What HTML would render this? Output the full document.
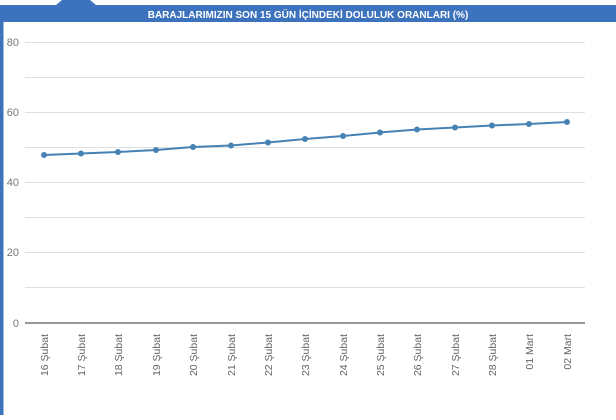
<!DOCTYPE html>
<html><head><meta charset="utf-8"><style>
body{margin:0;background:#fff;width:616px;height:415px;overflow:hidden;font-family:"Liberation Sans",Arial,sans-serif}
</style></head><body>
<svg width="616" height="415" xmlns="http://www.w3.org/2000/svg" font-family="Liberation Sans, Arial, sans-serif">
<rect x="0" y="5" width="616" height="17" fill="#3d72bd"/>
<polygon points="56,5 62,0 90,0 96,5" fill="#3d72bd"/>
<rect x="0" y="5" width="3.5" height="410" fill="#3d72bd"/>
<text x="308" y="18" text-anchor="middle" fill="#fff" font-size="10" font-weight="bold">BARAJLARIMIZIN SON 15 GÜN İÇİNDEKİ DOLULUK ORANLARI (%)</text>
<g stroke="#e0e0e0" stroke-width="1">
<line x1="25" x2="585" y1="42.5" y2="42.5"/>
<line x1="25" x2="585" y1="77.5" y2="77.5"/>
<line x1="25" x2="585" y1="112.5" y2="112.5"/>
<line x1="25" x2="585" y1="147.5" y2="147.5"/>
<line x1="25" x2="585" y1="182.5" y2="182.5"/>
<line x1="25" x2="585" y1="217.5" y2="217.5"/>
<line x1="25" x2="585" y1="252.5" y2="252.5"/>
<line x1="25" x2="585" y1="287.5" y2="287.5"/>
</g>
<line x1="25" x2="585" y1="323" y2="323" stroke="#777" stroke-width="1.5"/>
<g fill="#777" font-size="11" text-anchor="end">
<text x="19" y="46">80</text><text x="19" y="116">60</text><text x="19" y="186">40</text><text x="19" y="256">20</text><text x="19" y="327">0</text>
</g>
<polyline fill="none" stroke="#4682b4" stroke-width="2" points="44,155 81,153.5 118,152 156,150 193,147 231,145.5 268,142.5 305,139 343,136 380,132.5 417,129.5 455,127.5 492,125.5 529,124 567,122"/>
<g fill="#4682b4">
<circle cx="44" cy="155" r="3"/><circle cx="81" cy="153.5" r="3"/><circle cx="118" cy="152" r="3"/><circle cx="156" cy="150" r="3"/><circle cx="193" cy="147" r="3"/><circle cx="231" cy="145.5" r="3"/><circle cx="268" cy="142.5" r="3"/><circle cx="305" cy="139" r="3"/><circle cx="343" cy="136" r="3"/><circle cx="380" cy="132.5" r="3"/><circle cx="417" cy="129.5" r="3"/><circle cx="455" cy="127.5" r="3"/><circle cx="492" cy="125.5" r="3"/><circle cx="529" cy="124" r="3"/><circle cx="567" cy="122" r="3"/>
</g>
<g fill="#666" font-size="10.5" text-anchor="end">
<text transform="translate(48,334) rotate(-90)">16 Şubat</text>
<text transform="translate(85,334) rotate(-90)">17 Şubat</text>
<text transform="translate(122,334) rotate(-90)">18 Şubat</text>
<text transform="translate(160,334) rotate(-90)">19 Şubat</text>
<text transform="translate(197,334) rotate(-90)">20 Şubat</text>
<text transform="translate(235,334) rotate(-90)">21 Şubat</text>
<text transform="translate(272,334) rotate(-90)">22 Şubat</text>
<text transform="translate(309,334) rotate(-90)">23 Şubat</text>
<text transform="translate(347,334) rotate(-90)">24 Şubat</text>
<text transform="translate(384,334) rotate(-90)">25 Şubat</text>
<text transform="translate(421,334) rotate(-90)">26 Şubat</text>
<text transform="translate(459,334) rotate(-90)">27 Şubat</text>
<text transform="translate(496,334) rotate(-90)">28 Şubat</text>
<text transform="translate(533,334) rotate(-90)">01 Mart</text>
<text transform="translate(571,334) rotate(-90)">02 Mart</text>
</g>
</svg>
</body></html>
